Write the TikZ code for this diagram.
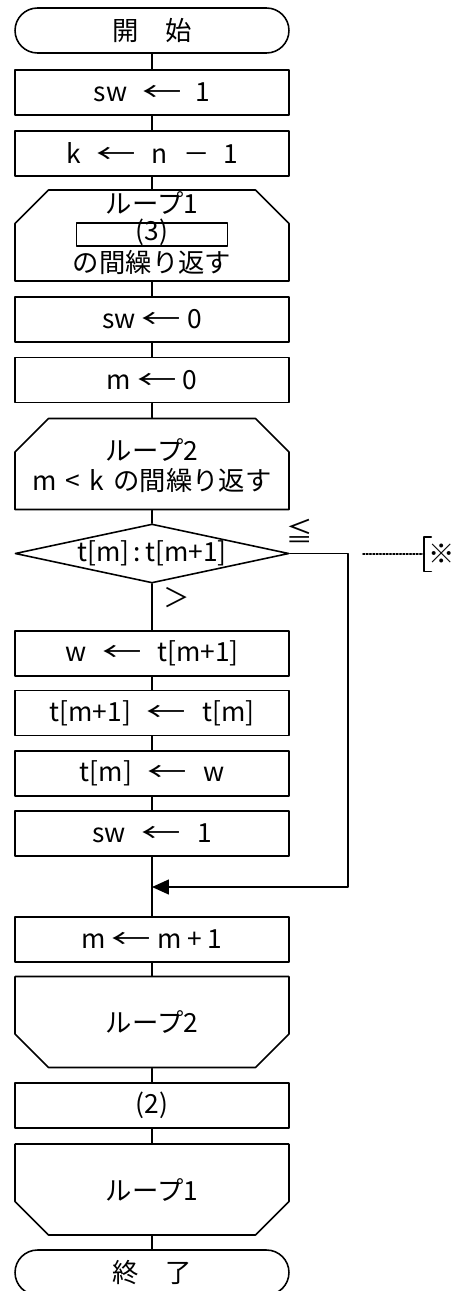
\documentclass[tikz,border=0pt]{standalone}
\usepackage{fontspec}
\setmainfont{Noto Sans CJK JP}
\usetikzlibrary{arrows.meta,shapes.geometric,shapes.misc}

\newcommand{\larr}{\scalebox{1.5}[1]{←}}

\tikzset{
  proc/.style={draw,rectangle,minimum width=5.48cm,minimum height=0.9cm,inner sep=0pt},
  term/.style={proc,rounded corners=0.45cm},
  loopbeg/.style={draw,chamfered rectangle,chamfered rectangle corners={north west,north east},
    chamfered rectangle xsep=0.5cm,chamfered rectangle ysep=0.44cm,
    minimum width=5.48cm,minimum height=1.82cm,inner sep=0pt},
  loopend/.style={loopbeg,chamfered rectangle corners={south west,south east}},
  decide/.style={draw,diamond,aspect=4.6,minimum width=5.48cm,minimum height=1.18cm,inner sep=0pt},
  blank/.style={draw,rectangle,minimum width=3.02cm,inner sep=0pt,text height=0.35cm,text depth=0.11cm},
  lbl/.style={inner sep=0pt},
}

\begin{document}
\begin{tikzpicture}[line cap=round,line join=round,>={Triangle[length=0.34cm,width=0.3cm]},x=0.02cm,y=-0.02cm,
    line width=0.9pt,font=\fontsize{15pt}{17pt}\selectfont]
  \useasboundingbox (0,0) rectangle (454,1291);

  % main column
  \node[term] (start) at (152,30.5) {開　始};
  \node[proc] (swone) at (152,92.5) {sw\hspace{0.6em}\larr\hspace{0.5em}1};
  \node[proc] (kset) at (152,153.5) {k\hspace{0.6em}\larr\hspace{0.6em}n\hspace{0.6em}－\hspace{0.5em}1};
  \node[loopbeg] (loopa) at (152,235.5) {\phantom{ループ1}};
  \node[lbl] (loopatitle) at (152,203) {ループ1};
  \node[blank] (blankc) at (152,234.5) {(3)};
  \node[lbl] (loopacond) at (152,262) {の間繰り返す};
  \node[proc] (swzero) at (152,319.5) {sw \larr\ 0};
  \node[proc] (mzero) at (152,380) {m \larr\ 0};
  \node[loopbeg] (loopb) at (152,464) {\phantom{ループ2}};
  \node[lbl] (loopbtitle) at (152,450) {ループ2};
  \node[lbl] (loopbcond) at (152,480) {m\hspace{0.35em}<\hspace{0.35em}k\hspace{0.35em}の間繰り返す};
  \node[decide] (cmp) at (152,553.5) {t[m]\,:\,t[m+1]};
  \node[proc] (wset) at (152,653.5) {w\hspace{0.6em}\larr\hspace{0.6em}t[m+1]};
  \node[proc] (tnext) at (152,713) {t[m+1]\hspace{0.6em}\larr\hspace{0.6em}t[m]};
  \node[proc] (tcur) at (152,773.5) {t[m]\hspace{0.6em}\larr\hspace{0.6em}w};
  \node[proc] (swset) at (152,833.5) {sw\hspace{0.6em}\larr\hspace{0.6em}1};
  \coordinate (join) at (152,887);
  \node[proc] (minc) at (152,939.5) {m \larr\ m + 1};
  \node[loopend] (loopbend) at (152,1022) {ループ2};
  \node[proc] (stepb) at (152,1105.5) {(2)};
  \node[loopend] (loopaend) at (152,1189.5) {ループ1};
  \node[term] (stop) at (152,1272.5) {終　了};

  \draw (start) -- (swone);
  \draw (swone) -- (kset);
  \draw (kset) -- (loopa);
  \draw (loopa) -- (swzero);
  \draw (swzero) -- (mzero);
  \draw (mzero) -- (loopb);
  \draw (loopb) -- (cmp);
  \draw (cmp) -- (wset);
  \draw (wset) -- (tnext);
  \draw (tnext) -- (tcur);
  \draw (tcur) -- (swset);
  \draw (swset) -- (minc);
  \draw (minc) -- (loopbend);
  \draw (loopbend) -- (stepb);
  \draw (stepb) -- (loopaend);
  \draw (loopaend) -- (stop);

  % branch labels
  \node[lbl] (le) at (300,531) {≦};
  \node[lbl] (gt) at (177,598) {＞};

  % skip branch
  \draw[->] (cmp.east) -- ++(58,0) |- (join);

  % note mark
  \node[lbl,minimum width=0.68cm,minimum height=0.66cm] (note) at (442,554) {※};
  \draw ([xshift=0.14cm]note.north west) -- (note.north west) -- (note.south west) -- ([xshift=0.14cm]note.south west);
  \coordinate (lead) at (363,554);
  \draw[densely dotted] (lead) -- (note.west);
\end{tikzpicture}
\end{document}
